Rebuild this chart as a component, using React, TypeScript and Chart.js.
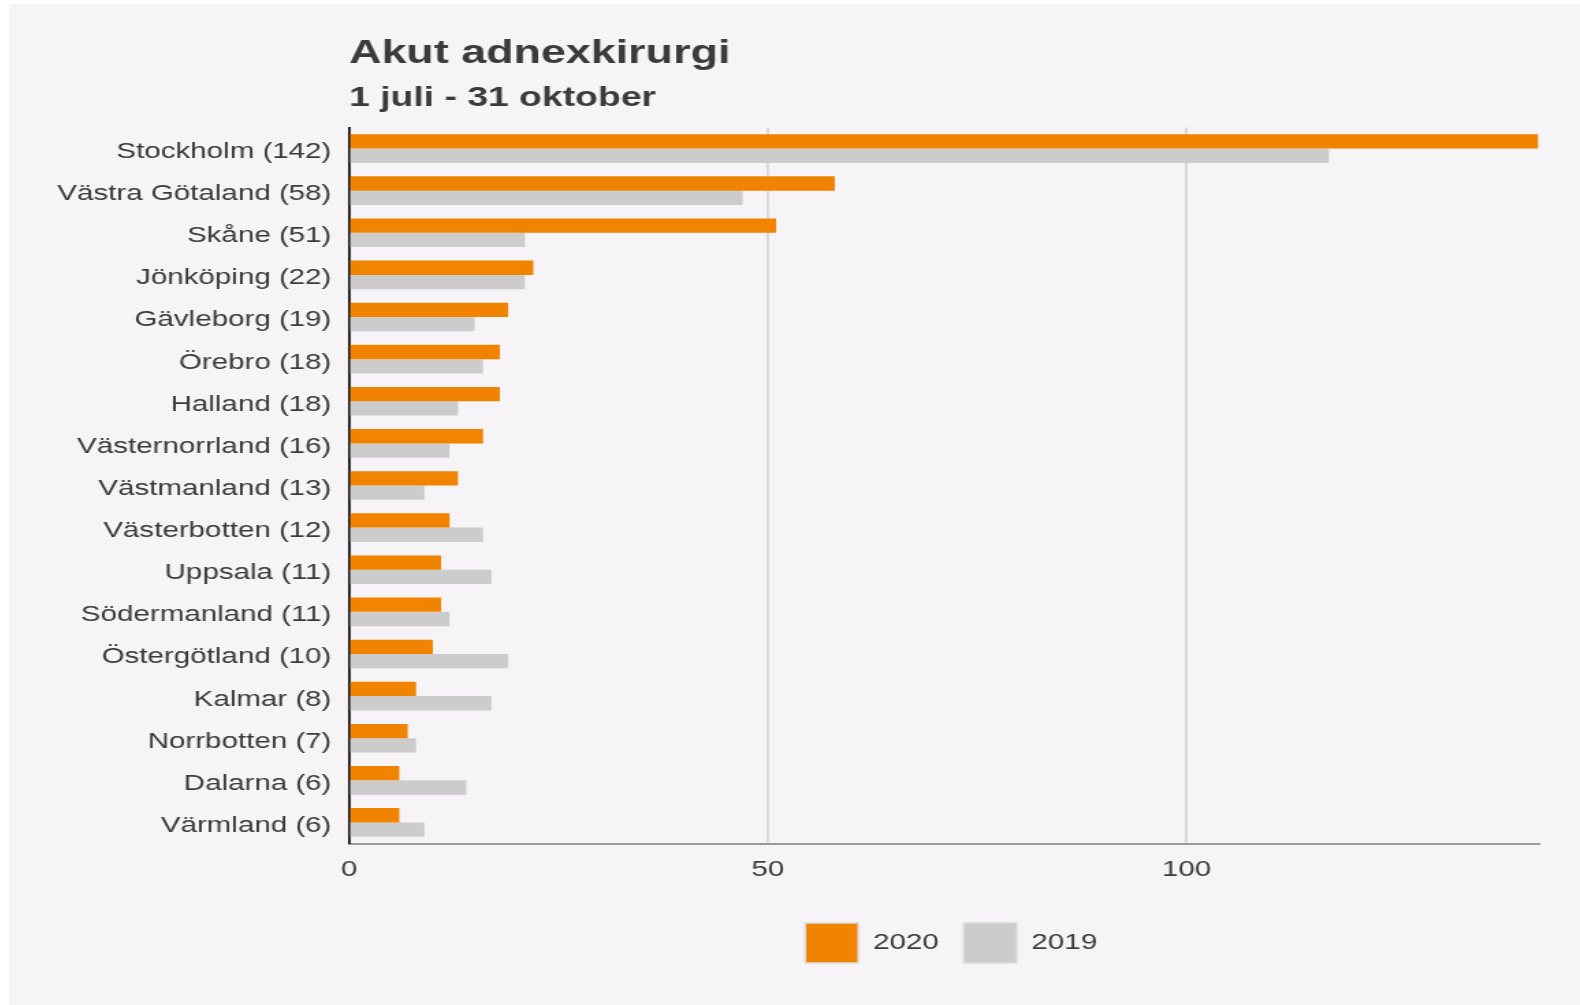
import React, { useEffect, useRef } from 'react';
import { Chart, registerables } from 'chart.js';

Chart.register(...registerables);

const regions = [
  'Stockholm', 'Västra Götaland', 'Skåne', 'Jönköping', 'Gävleborg', 'Örebro',
  'Halland', 'Västernorrland', 'Västmanland', 'Västerbotten', 'Uppsala',
  'Södermanland', 'Östergötland', 'Kalmar', 'Norrbotten', 'Dalarna', 'Värmland',
];
const values2020 = [142, 58, 51, 22, 19, 18, 18, 16, 13, 12, 11, 11, 10, 8, 7, 6, 6];
const values2019 = [117, 47, 21, 21, 15, 16, 13, 12, 9, 16, 17, 12, 19, 17, 8, 14, 9];
const seriesNames = ['2020', '2019'];
const xTicks = [0, 50, 100];
const xMax = 142;
const titleText = 'Akut adnexkirurgi';
const subtitleText = '1 juli - 31 oktober';

const SX = 1.367;
const CSS_W = 1571;
const CSS_H = 1001;
const CANVAS_W = Math.round(CSS_W / SX);
const CANVAS_H = CSS_H;
const FONT = '"Liberation Sans", Arial, Helvetica, sans-serif';
const TEXT = '#3a3a3a';

const titlePlugin = {
  id: 'customTitle',
  afterDraw(chart: any) {
    const ctx = chart.ctx;
    const left = chart.chartArea.left;
    ctx.save();
    ctx.fillStyle = '#3b3b3b';
    ctx.textAlign = 'left';
    ctx.textBaseline = 'alphabetic';
    ctx.font = `bold 32.8px ${FONT}`;
    ctx.fillText(titleText, left, 59);
    ctx.font = `bold 27.3px ${FONT}`;
    ctx.fillText(subtitleText, left, 102);
    ctx.restore();
  },
};

const legendShift = {
  id: 'legendShift',
  afterLayout(chart: any) {
    const l = chart.legend;
    if (l) {
      l.left += 5.5;
      l.right += 5.5;
    }
  },
};

export default function App() {
  const ref = useRef<HTMLCanvasElement | null>(null);

  useEffect(() => {
    document.body.style.overflow = 'hidden';
    const canvas = ref.current;
    if (!canvas) return;
    const labels = regions.map((r, i) => `${r} (${values2020[i]})`);
    const chart = new Chart(canvas, {
      type: 'bar',
      data: {
        labels,
        datasets: [
          {
            label: seriesNames[0],
            data: values2020,
            backgroundColor: '#f08300',
            borderWidth: 0,
            categoryPercentage: 0.68,
            barPercentage: 1.0,
          },
          {
            label: seriesNames[1],
            data: values2019,
            backgroundColor: '#cccccc',
            borderWidth: 0,
            categoryPercentage: 0.68,
            barPercentage: 1.0,
          },
        ],
      },
      options: {
        indexAxis: 'y',
        responsive: false,
        animation: false,
        devicePixelRatio: 1,
        layout: { padding: { left: 0, right: 30.5, top: 123.5, bottom: 32 } },
        plugins: {
          tooltip: { enabled: false },
          legend: {
            position: 'bottom',
            fullSize: false,
            labels: {
              boxWidth: 38.8,
              boxHeight: 40,
              padding: 18.3,
              color: TEXT,
              font: { family: FONT, size: 21.6 },
              generateLabels: (c: any) => {
                const items = Chart.defaults.plugins.legend.labels.generateLabels(c);
                return items.map((it: any) => ({ ...it, strokeStyle: '#dcdcdc', lineWidth: 1.5 }));
              },
            },
          },
        },
        scales: {
          x: {
            type: 'linear',
            min: 0,
            max: xMax,
            afterBuildTicks: (s: any) => {
              s.ticks = xTicks.map((v) => ({ value: v }));
            },
            afterFit: (s: any) => {
              s.height = 61.2;
            },
            ticks: {
              color: TEXT,
              padding: 13.5,
              font: { family: FONT, size: 21.6 },
            },
            grid: {
              color: (ctx: any) => (ctx.tick && ctx.tick.value === 0 ? 'rgba(0,0,0,0)' : '#d9d9d9'),
              lineWidth: 2,
              drawTicks: false,
            },
            border: { display: true, color: '#9a9a9a', width: 2 },
          },
          y: {
            type: 'category',
            afterFit: (s: any) => {
              s.width = 248.7;
            },
            ticks: {
              color: TEXT,
              padding: 12.9,
              labelOffset: 3.5,
              font: { family: FONT, size: 21.6 },
            },
            grid: { display: false, drawTicks: false },
            border: { display: true, color: '#111111', width: 1.8 },
          },
        },
      },
      plugins: [titlePlugin, legendShift],
    } as any);
    return () => chart.destroy();
  }, []);

  return (
    <div
      style={{
        position: 'absolute',
        left: 9,
        top: 4,
        width: CSS_W,
        height: CSS_H,
        background: '#f6f4f7',
        overflow: 'hidden',
      }}
    >
      <canvas
        ref={ref}
        width={CANVAS_W}
        height={CANVAS_H}
        style={{ display: 'block', width: `${CSS_W}px`, height: `${CSS_H}px` }}
      />
    </div>
  );
}
